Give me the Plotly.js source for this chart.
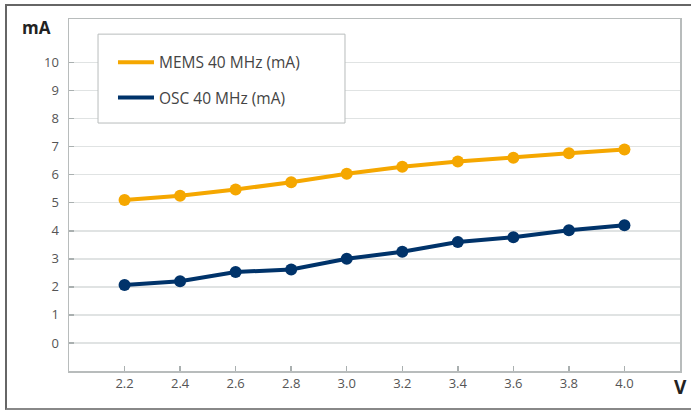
<!DOCTYPE html>
<html>
<head>
<meta charset="utf-8">
<script src="https://cdn.plot.ly/plotly-3.0.1.min.js"></script>
<style>
html,body{margin:0;padding:0;background:#fff;}
#wrap{position:relative;width:691px;height:410px;overflow:hidden;}
#frame{position:absolute;left:5px;top:4px;width:700px;height:402px;border-top:2px solid #666;border-left:2px solid #666;border-bottom:2px solid #888;pointer-events:none;}
#chart{position:absolute;left:0;top:0;width:691px;height:410px;}
</style>
</head>
<body>
<div id="wrap"><div id="chart"></div><div id="frame"></div></div>
<script>
const voltage = [2.2, 2.4, 2.6, 2.8, 3.0, 3.2, 3.4, 3.6, 3.8, 4.0];
const memsCurrent = [5.1, 5.25, 5.47, 5.73, 6.03, 6.28, 6.47, 6.6, 6.76, 6.9];
const oscCurrent = [2.07, 2.2, 2.53, 2.62, 3.0, 3.25, 3.6, 3.77, 4.02, 4.2];
const seriesNames = ['MEMS 40 MHz (mA)', 'OSC 40 MHz (mA)'];
const xTicks = [2.2, 2.4, 2.6, 2.8, 3.0, 3.2, 3.4, 3.6, 3.8, 4.0];
const xTickText = ['2.2', '2.4', '2.6', '2.8', '3.0', '3.2', '3.4', '3.6', '3.8', '4.0'];
const yTicks = [0, 1, 2, 3, 4, 5, 6, 7, 8, 9, 10];

const orange = '#F5A700';
const navy = '#00336A';

const traces = [
  {x: voltage, y: memsCurrent, name: seriesNames[0], mode: 'lines', legendgroup: 'a',
   line: {color: orange, width: 4}, hoverinfo: 'skip'},
  {x: voltage, y: memsCurrent, mode: 'markers', showlegend: false, legendgroup: 'a',
   marker: {color: orange, size: 12}},
  {x: voltage, y: oscCurrent, name: seriesNames[1], mode: 'lines', legendgroup: 'b',
   line: {color: navy, width: 4}, hoverinfo: 'skip'},
  {x: voltage, y: oscCurrent, mode: 'markers', showlegend: false, legendgroup: 'b',
   marker: {color: navy, size: 12}}
];

const tickFont = {family: 'Open Sans, DejaVu Sans, sans-serif', size: 13, color: '#555'};

const layout = {
  width: 691, height: 410,
  margin: {l: 69, r: 11, t: 19, b: 39},
  paper_bgcolor: '#fff', plot_bgcolor: '#fff',
  showlegend: true,
  legend: {
    x: 0.072, y: 0.924, xanchor: 'left', yanchor: 'top',
    bgcolor: 'rgba(0,0,0,0)', borderwidth: 0,
    font: {family: 'Open Sans, DejaVu Sans, sans-serif', size: 15.5, color: '#444'},
    traceorder: 'grouped', tracegroupgap: 12, itemwidth: 36
  },
  shapes: [
    {type: 'rect', xref: 'paper', yref: 'paper', x0: 0.0475, x1: 0.4517, y0: 0.7045, y1: 0.957,
     fillcolor: '#fff', line: {color: '#b8bcbc', width: 1}, layer: 'above'}
  ],
  xaxis: {
    range: [2.0, 4.2], tickvals: xTicks, ticktext: xTickText,
    showgrid: false, zeroline: false,
    ticks: 'inside', ticklen: 5, tickcolor: '#aab0b0', tickwidth: 1.5,
    showline: true, mirror: true, linecolor: '#b8bcbc', linewidth: 1.5,
    tickfont: tickFont, fixedrange: true
  },
  yaxis: {
    range: [-1, 11.55], tickvals: yTicks,
    showgrid: true, gridcolor: '#e0e3e3', gridwidth: 1.5, zeroline: false,
    ticks: 'inside', ticklen: 5, tickcolor: '#aab0b0', tickwidth: 1.5,
    showline: true, mirror: true, linecolor: '#b8bcbc', linewidth: 1.5,
    tickfont: tickFont, ticklabelstandoff: 6, fixedrange: true
  },
  annotations: [
    {text: '<b>mA</b>', xref: 'paper', yref: 'paper', x: -0.053, y: 0.975, xanchor: 'center', yanchor: 'middle',
     showarrow: false, font: {family: 'Open Sans, DejaVu Sans, sans-serif', size: 17, color: '#222'}},
    {text: '<b>V</b>', xref: 'paper', yref: 'paper', x: 1.0, y: -0.045, xanchor: 'center', yanchor: 'middle',
     showarrow: false, font: {family: 'Open Sans, DejaVu Sans, sans-serif', size: 19, color: '#222'}}
  ]
};

Plotly.newPlot('chart', traces, layout, {displayModeBar: false, staticPlot: true});
</script>
</body>
</html>
